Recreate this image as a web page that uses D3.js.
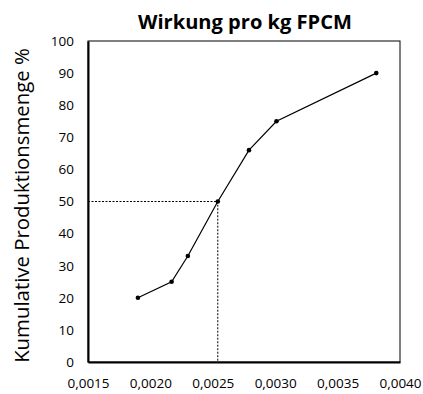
<!DOCTYPE html>
<html><head><meta charset="utf-8">
<script src="https://cdn.jsdelivr.net/npm/d3@7"></script>
<style>body{margin:0;background:#fff}svg{display:block}text{font-family:"Open Sans","Liberation Sans",sans-serif;fill:#000}</style>
</head><body>
<svg id="c" width="423" height="394"></svg>
<script>
const xValues = [0.00190, 0.00217, 0.00230, 0.00254, 0.00279, 0.00301, 0.00381];
const yValues = [20, 25, 33, 50, 66, 75, 90];
const xTicks = [0.0015, 0.0020, 0.0025, 0.0030, 0.0035, 0.0040];
const yTicks = [0, 10, 20, 30, 40, 50, 60, 70, 80, 90, 100];
const refPoint = [0.00254, 50];
const title = "Wirkung pro kg FPCM";
const yLabel = "Kumulative Produktionsmenge %";

const svg = d3.select("#c");
const m = {l: 88, r: 400, t: 41, b: 362};
const x = d3.scaleLinear().domain([0.0015, 0.0040]).range([m.l, m.r]);
const y = d3.scaleLinear().domain([0, 100]).range([m.b, m.t]);
const fmt = d => d3.format(".4f")(d).replace(".", ",");

// plot border
svg.append("rect").attr("x", m.l).attr("y", m.t).attr("width", m.r - m.l).attr("height", m.b - m.t)
  .attr("fill", "none").attr("stroke", "#000").attr("stroke-width", 1);

// axes
const xa = svg.append("g").attr("transform", `translate(0,${m.b})`)
  .call(d3.axisBottom(x).tickValues(xTicks).tickFormat(fmt).tickSize(0).tickPadding(16));
xa.select(".domain").attr("stroke", "#000").attr("stroke-width", 2);
xa.selectAll("text").style("font-size", "13.5px").attr("font-family", null);

const ya = svg.append("g").attr("transform", `translate(${m.l},0)`)
  .call(d3.axisLeft(y).tickValues(yTicks).tickSize(0).tickPadding(14));
ya.select(".domain").attr("stroke", "#000").attr("stroke-width", 2);
ya.selectAll("text").style("font-size", "13.5px").attr("font-family", null);

// dashed reference lines
svg.append("path")
  .attr("d", `M${x(0.0015)},${y(refPoint[1])}H${x(refPoint[0])}V${y(0)}`)
  .attr("fill", "none").attr("stroke", "#000").attr("stroke-width", 1).attr("stroke-dasharray", "2,1.5");

const data = xValues.map((v, i) => [v, yValues[i]]);
svg.append("path").datum(data)
  .attr("d", d3.line().x(d => x(d[0])).y(d => y(d[1])))
  .attr("fill", "none").attr("stroke", "#000").attr("stroke-width", 1.2);
svg.selectAll("circle.pt").data(data).join("circle")
  .attr("cx", d => x(d[0])).attr("cy", d => y(d[1])).attr("r", 2.3).attr("fill", "#000");

function fit(sel, base, target) {
  sel.style("font-size", base + "px");
  const w = sel.node().getComputedTextLength();
  sel.style("font-size", (base * target / w).toFixed(2) + "px");
}

const t = svg.append("text").attr("x", 245).attr("y", 29).attr("text-anchor", "middle")
  .style("font-weight", "bold").text(title);
fit(t, 20, 214);

const yl = svg.append("text").attr("transform", "translate(29,205.5) rotate(-90)").attr("text-anchor", "middle")
  .text(yLabel);
fit(yl, 20, 315);
</script>
</body></html>
